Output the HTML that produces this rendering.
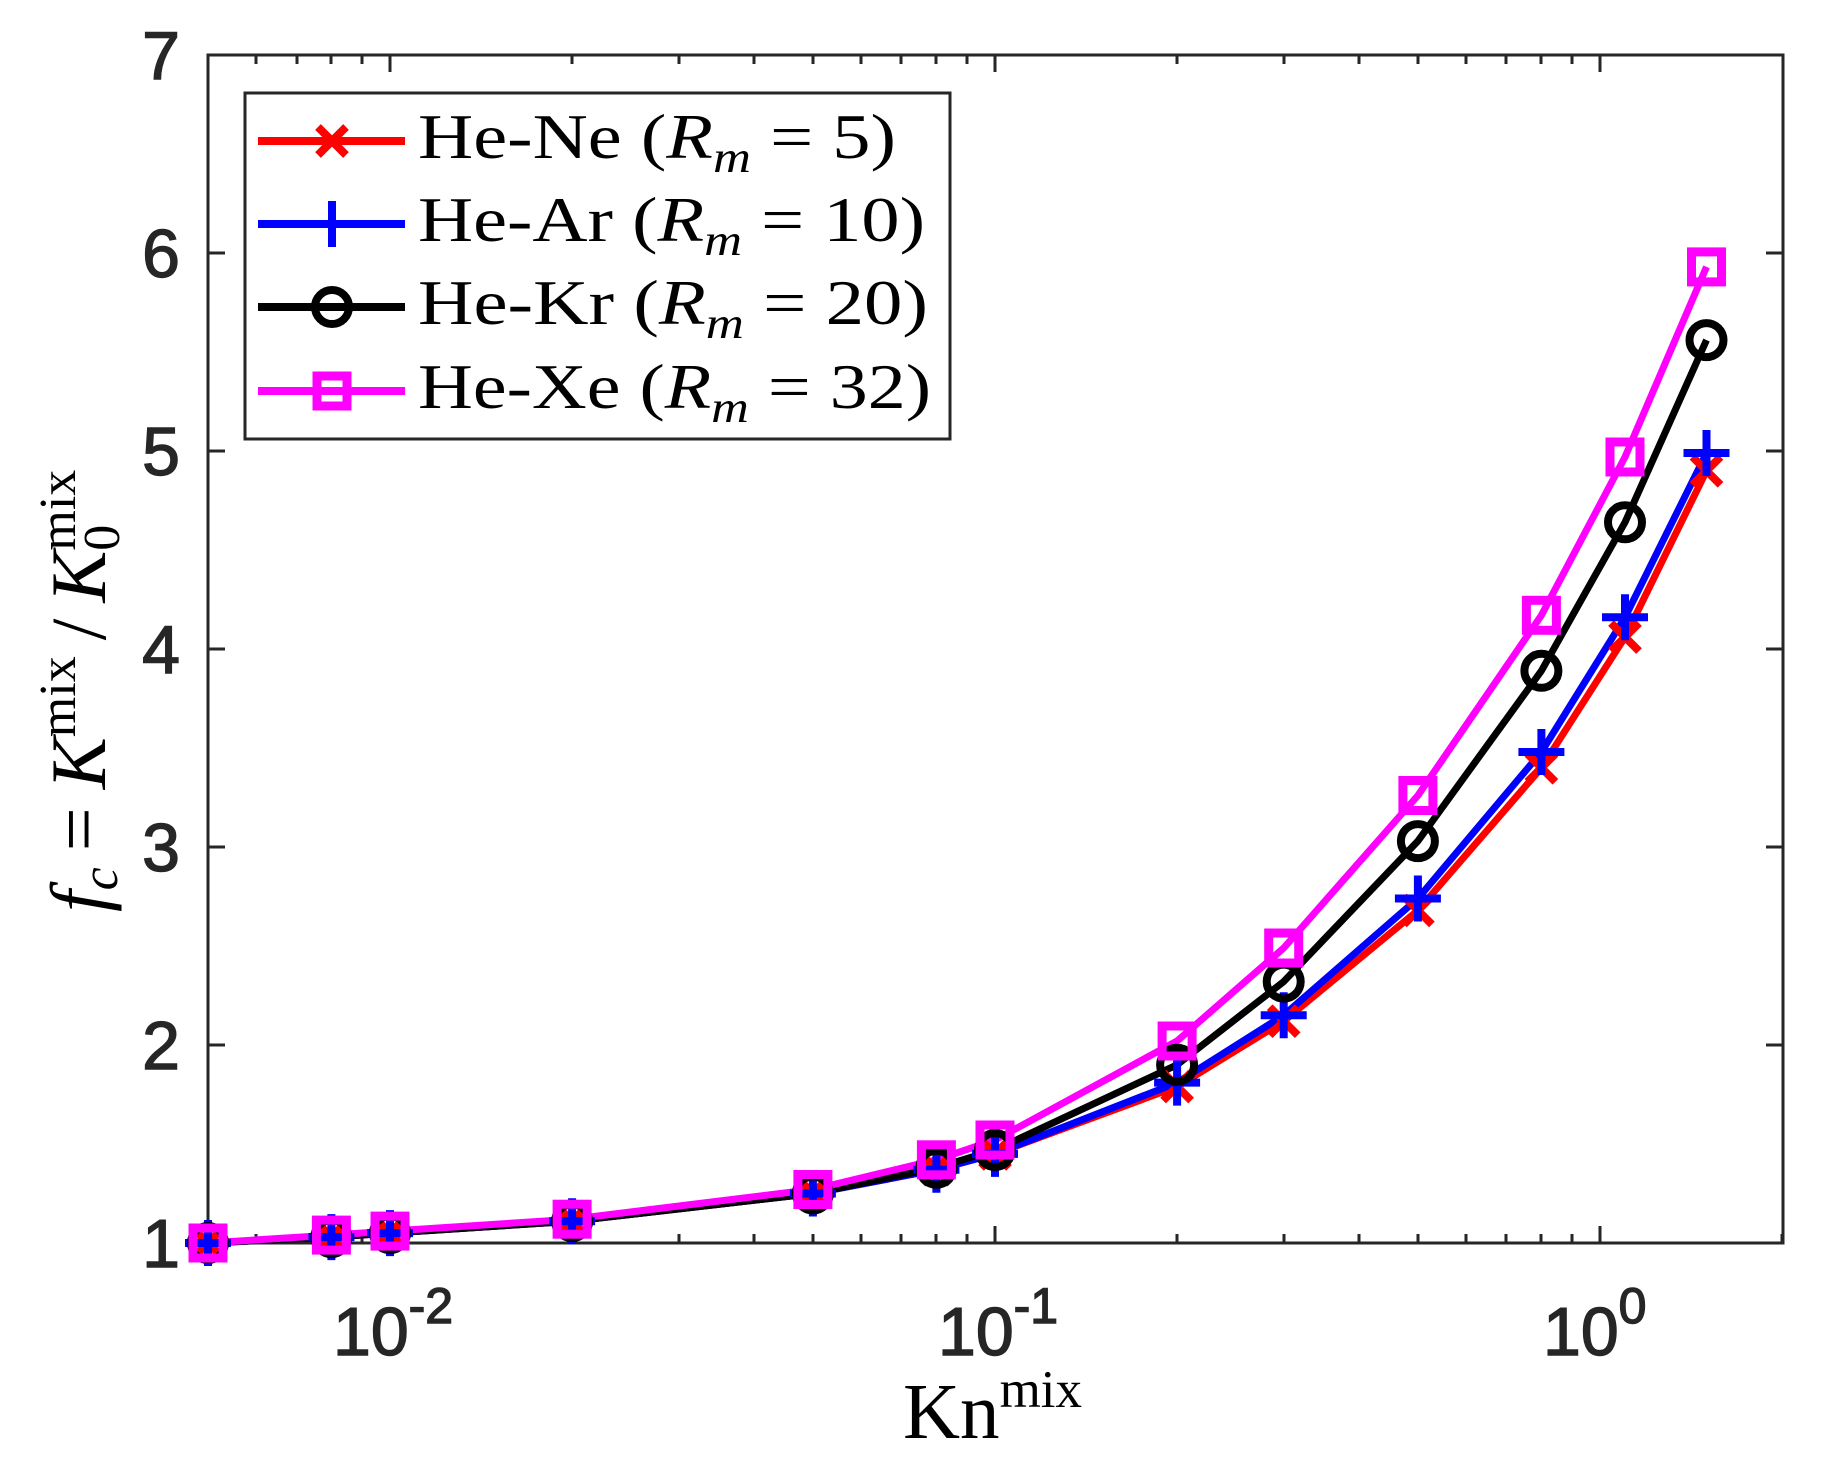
<!DOCTYPE html>
<html><head><meta charset="utf-8"><style>
html,body{margin:0;padding:0;background:#fff;}
svg{display:block;}
.tk{font-family:"Liberation Sans",sans-serif;font-size:68px;fill:#262626;stroke:#262626;stroke-width:1.4;}
.sr{font-family:"Liberation Serif",serif;fill:#000;}
</style></head><body>
<svg width="1824" height="1473" viewBox="0 0 1824 1473" xmlns="http://www.w3.org/2000/svg">
<defs>
<g id="mx"><path d="M-14,-14L14,14M-14,14L14,-14" stroke="#ff0000" stroke-width="8" fill="none"/></g>
<g id="mp"><path d="M-23,0H23M0,-23V23" stroke="#0000ff" stroke-width="8" fill="none"/></g>
<g id="mo"><circle r="17" stroke="#000" stroke-width="8" fill="none"/></g>
<g id="ms"><rect x="-15" y="-15" width="30" height="30" stroke="#ff00ff" stroke-width="9" fill="none"/></g>
</defs>
<rect x="0" y="0" width="1824" height="1473" fill="#fff"/>

<rect x="208" y="55" width="1575" height="1188" fill="none" stroke="#262626" stroke-width="3"/>
<g stroke="#262626" stroke-width="3">
<path d="M208,253h17M208,451h17M208,649h17M208,847h17M208,1045h17M1783,253h-17M1783,451h-17M1783,649h-17M1783,847h-17M1783,1045h-17"/>
<path d="M390,1243v-17M995,1243v-17M1600,1243v-17M390,55v17M995,55v17M1600,55v17"/>
<path d="M208,1243v-9M256,1243v-9M297,1243v-9M331,1243v-9M362,1243v-9
M572,1243v-9M679,1243v-9M754,1243v-9M813,1243v-9M861,1243v-9M901,1243v-9M936,1243v-9M967,1243v-9
M1177,1243v-9M1284,1243v-9M1359,1243v-9M1418,1243v-9M1466,1243v-9M1506,1243v-9M1541,1243v-9M1572,1243v-9M1782,1243v-9
M256,55v9M297,55v9M331,55v9M362,55v9
M572,55v9M679,55v9M754,55v9M813,55v9M861,55v9M901,55v9M936,55v9M967,55v9
M1177,55v9M1284,55v9M1359,55v9M1418,55v9M1466,55v9M1506,55v9M1541,55v9M1572,55v9"/>
</g>

<g class="tk" text-anchor="end">
<text x="180" y="1267">1</text>
<text x="180" y="1069">2</text>
<text x="180" y="871">3</text>
<text x="180" y="673">4</text>
<text x="180" y="475">5</text>
<text x="180" y="277">6</text>
<text x="180" y="79">7</text>
</g>
<g class="tk">
<text x="333" y="1355">10<tspan font-size="50" dy="-32">-2</tspan></text>
<text x="938" y="1355">10<tspan font-size="50" dy="-32">-1</tspan></text>
<text x="1543" y="1355">10<tspan font-size="50" dy="-32">0</tspan></text>
</g>

<text class="sr" x="903" y="1438" font-size="79">Kn<tspan font-size="53" dy="-31">mix</tspan></text>
<text class="sr" transform="translate(105,912) rotate(-90)" font-size="78"><tspan font-style="italic">f</tspan><tspan font-style="italic" font-size="52" dy="12">c</tspan><tspan dx="16" dy="-12">=</tspan><tspan font-style="italic" dx="18">K</tspan><tspan font-size="52" dy="-30">mix</tspan><tspan dx="16" dy="30">/</tspan><tspan font-style="italic" dx="16">K</tspan><tspan font-size="52" dy="-30">mix</tspan><tspan font-size="52" dx="-81" dy="44">0</tspan></text>

<g fill="none" stroke-width="7" stroke-linejoin="round">
<polyline stroke="#ff0000" points="208,1243 331.4,1237.1 390,1233.1 572.1,1221.2 812.9,1193.5 936.4,1169.7 995,1153.9 1177.1,1086.6 1283.7,1021.2 1417.9,910.4 1541.4,767.8 1625,637.1 1706.5,470.8"/>
<polyline stroke="#0000ff" points="208,1243 331.4,1237.1 390,1233.1 572.1,1221.2 812.9,1193.5 936.4,1169.7 995,1153.9 1177.1,1082.6 1283.7,1015.3 1417.9,898.5 1541.4,752 1625,617.3 1706.5,453"/>
<polyline stroke="#000000" points="208,1243 331.4,1237.1 390,1233.1 572.1,1221.2 812.9,1193.5 936.4,1167.8 995,1150 1177.1,1064.8 1283.7,981.6 1417.9,841.1 1541.4,670.8 1625,522.3 1706.5,340.1"/>
<polyline stroke="#ff00ff" points="208,1243 331.4,1235.1 390,1231.1 572.1,1219.2 812.9,1189.5 936.4,1159.8 995,1140 1177.1,1041 1283.7,948 1417.9,795.5 1541.4,615.3 1625,457 1706.5,266.9"/>
</g>
<g>
<use href="#mx" x="208" y="1243"/><use href="#mx" x="331.4" y="1237.1"/><use href="#mx" x="390" y="1233.1"/><use href="#mx" x="572.1" y="1221.2"/><use href="#mx" x="812.9" y="1193.5"/><use href="#mx" x="936.4" y="1169.7"/><use href="#mx" x="995" y="1153.9"/><use href="#mx" x="1177.1" y="1086.6"/><use href="#mx" x="1283.7" y="1021.2"/><use href="#mx" x="1417.9" y="910.4"/><use href="#mx" x="1541.4" y="767.8"/><use href="#mx" x="1625" y="637.1"/><use href="#mx" x="1706.5" y="470.8"/>
<use href="#mp" x="208" y="1243"/><use href="#mp" x="331.4" y="1237.1"/><use href="#mp" x="390" y="1233.1"/><use href="#mp" x="572.1" y="1221.2"/><use href="#mp" x="812.9" y="1193.5"/><use href="#mp" x="936.4" y="1169.7"/><use href="#mp" x="995" y="1153.9"/><use href="#mp" x="1177.1" y="1082.6"/><use href="#mp" x="1283.7" y="1015.3"/><use href="#mp" x="1417.9" y="898.5"/><use href="#mp" x="1541.4" y="752"/><use href="#mp" x="1625" y="617.3"/><use href="#mp" x="1706.5" y="453"/>
<use href="#mo" x="208" y="1243"/><use href="#mo" x="331.4" y="1237.1"/><use href="#mo" x="390" y="1233.1"/><use href="#mo" x="572.1" y="1221.2"/><use href="#mo" x="812.9" y="1193.5"/><use href="#mo" x="936.4" y="1167.8"/><use href="#mo" x="995" y="1150"/><use href="#mo" x="1177.1" y="1064.8"/><use href="#mo" x="1283.7" y="981.6"/><use href="#mo" x="1417.9" y="841.1"/><use href="#mo" x="1541.4" y="670.8"/><use href="#mo" x="1625" y="522.3"/><use href="#mo" x="1706.5" y="340.1"/>
<use href="#ms" x="208" y="1243"/><use href="#ms" x="331.4" y="1235.1"/><use href="#ms" x="390" y="1231.1"/><use href="#ms" x="572.1" y="1219.2"/><use href="#ms" x="812.9" y="1189.5"/><use href="#ms" x="936.4" y="1159.8"/><use href="#ms" x="995" y="1140"/><use href="#ms" x="1177.1" y="1041"/><use href="#ms" x="1283.7" y="948"/><use href="#ms" x="1417.9" y="795.5"/><use href="#ms" x="1541.4" y="615.3"/><use href="#ms" x="1625" y="457"/><use href="#ms" x="1706.5" y="266.9"/>
</g>

<rect x="245" y="93" width="705" height="346" fill="#fff" stroke="#262626" stroke-width="3"/>
<g stroke-width="8">
<line x1="258" y1="141" x2="405" y2="141" stroke="#ff0000"/>
<line x1="258" y1="224" x2="405" y2="224" stroke="#0000ff"/>
<line x1="258" y1="307" x2="405" y2="307" stroke="#000"/>
<line x1="258" y1="391" x2="405" y2="391" stroke="#ff00ff"/>
</g>
<use href="#mx" x="332" y="141"/><use href="#mp" x="332" y="224"/><use href="#mo" x="332" y="307"/><use href="#ms" x="332" y="391"/>
<g class="sr" font-size="64">
<text x="418" y="158" textLength="478" lengthAdjust="spacingAndGlyphs">He-Ne (<tspan font-style="italic">R</tspan><tspan font-style="italic" font-size="44" dy="14">m</tspan><tspan dy="-14"> = 5)</tspan></text>
<text x="418" y="241" textLength="507" lengthAdjust="spacingAndGlyphs">He-Ar (<tspan font-style="italic">R</tspan><tspan font-style="italic" font-size="44" dy="14">m</tspan><tspan dy="-14"> = 10)</tspan></text>
<text x="418" y="324" textLength="510" lengthAdjust="spacingAndGlyphs">He-Kr (<tspan font-style="italic">R</tspan><tspan font-style="italic" font-size="44" dy="14">m</tspan><tspan dy="-14"> = 20)</tspan></text>
<text x="418" y="408" textLength="513" lengthAdjust="spacingAndGlyphs">He-Xe (<tspan font-style="italic">R</tspan><tspan font-style="italic" font-size="44" dy="14">m</tspan><tspan dy="-14"> = 32)</tspan></text>
</g>
</svg>
</body></html>
